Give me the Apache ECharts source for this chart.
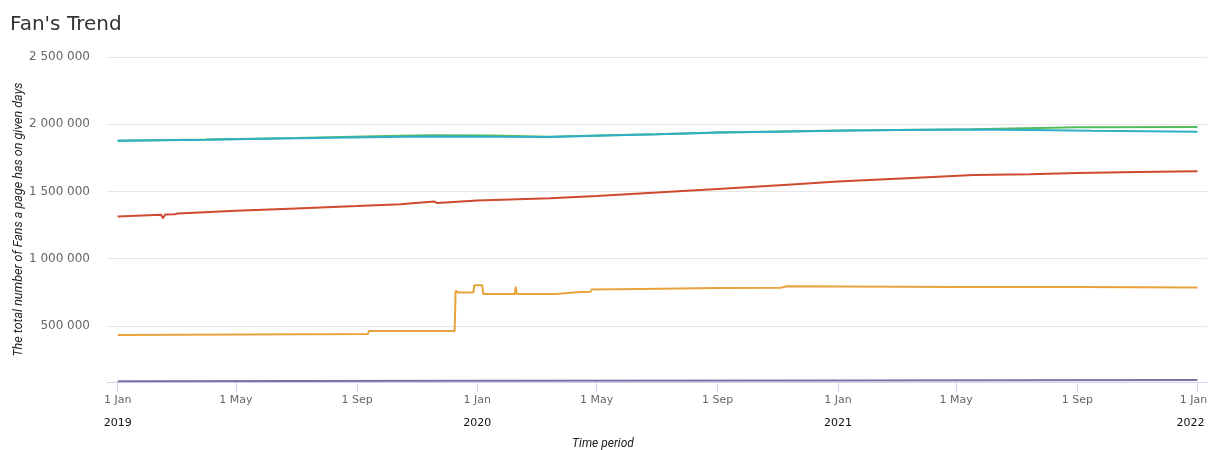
<!DOCTYPE html>
<html>
<head>
<meta charset="utf-8">
<script src="https://cdn.jsdelivr.net/npm/echarts@6/dist/echarts.min.js"></script>
<style>
html,body{margin:0;padding:0;background:#fff;}
#chart{width:1209px;height:450px;}
</style>
</head>
<body>
<div id="chart"></div>
<script>
// ---- Data ----
const tickDates = ['2019-01-01','2019-05-01','2019-09-01','2020-01-01','2020-05-01','2020-09-01','2021-01-01','2021-05-01','2021-09-01','2022-01-01'];
const tickMonthLabels = ['1 Jan','1 May','1 Sep','1 Jan','1 May','1 Sep','1 Jan','1 May','1 Sep','1 Jan'];
const tickYearLabels = ['2019','','','2020','','','2021','','','2022'];
const yTickValues = [500000, 1000000, 1500000, 2000000, 2500000];

const greenDates = ['2019-01-01','2019-04-01','2019-07-01','2019-10-01','2019-11-15','2020-01-15','2020-03-15','2020-05-01','2020-07-01','2020-09-01','2020-11-01','2021-01-01','2021-03-01','2021-05-18','2021-05-19','2021-09-01','2022-01-01'];
const greenValues = [1878000,1886000,1897000,1912000,1918000,1916000,1907000,1916000,1926000,1938000,1946000,1953000,1958000,1962000,1975000,1977000,1980000];

const tealDates = ['2019-01-01','2019-04-01','2019-07-01','2019-10-01','2019-11-15','2020-01-15','2020-03-15','2020-05-01','2020-07-01','2020-08-20','2020-09-01','2020-11-01','2021-01-01','2021-03-01','2021-05-15','2021-07-15','2021-09-15','2022-01-01'];
const tealValues = [1878000,1885000,1895000,1905000,1908000,1906000,1905000,1915000,1925000,1935000,1938000,1945000,1952000,1957000,1961000,1958000,1951000,1945000];

const redDates = ['2019-01-01','2019-02-14','2019-02-16','2019-02-18','2019-02-28','2019-03-01','2019-03-03','2019-05-01','2019-07-01','2019-09-01','2019-10-15','2019-11-18','2019-11-21','2020-01-01','2020-03-15','2020-05-01','2020-07-01','2020-09-01','2020-11-15','2021-01-01','2021-03-01','2021-05-19','2021-05-21','2021-07-15','2021-09-01','2021-11-01','2022-01-01'];
const redValues = [1314000,1326000,1300000,1328000,1331000,1345000,1336000,1356000,1373000,1391000,1405000,1426000,1415000,1433000,1450000,1467000,1492000,1519000,1552000,1574000,1595000,1622000,1613000,1628000,1638000,1645000,1650000];

const orangeDates = ['2019-01-01','2019-09-12','2019-09-13','2019-12-09','2019-12-10','2019-12-12','2019-12-13','2019-12-28','2019-12-29','2020-01-06','2020-01-07','2020-02-08','2020-02-09','2020-02-10','2020-03-21','2020-03-22','2020-04-14','2020-04-16','2020-04-20','2020-04-25','2020-04-26','2020-06-15','2020-09-01','2020-11-04','2020-11-05','2020-11-10','2020-11-11','2021-05-01','2021-09-01','2022-01-01'];
const orangeValues = [432000,440000,462000,463000,762000,758000,748000,748000,803000,803000,738000,738000,792000,738000,738000,752000,752000,748000,752000,755000,770000,775000,782000,784000,795000,795000,787000,790000,789000,786000];

const purpleDates = ['2019-01-01','2020-01-01','2021-01-01','2022-01-01'];
const purpleValues = [88000,92000,95000,97000];

// ---- Build ----
const P = s => { const a = s.split('-').map(Number); return Date.UTC(a[0], a[1] - 1, a[2]); };
const pairs = (d, v) => d.map((s, i) => [P(s), v[i]]);
const tickMs = tickDates.map(P);
const DAY = 86400000;
const fmtNum = v => String(v).replace(/\B(?=(\d{3})+(?!\d))/g, ' ');

const chart = echarts.init(document.getElementById('chart'), null, {renderer: 'canvas'});

function line(name, color, data) {
  return {
    name, type: 'line', data, showSymbol: false, symbol: 'none',
    lineStyle: {color, width: 2}, itemStyle: {color},
    emphasis: {disabled: true}, animation: false
  };
}

chart.setOption({
  animation: false,
  title: {
    text: "Fan's Trend", left: 10, top: 15, padding: 0,
    textStyle: {fontFamily: 'DejaVu Sans', fontSize: 20, fontWeight: 'normal', color: '#333'}
  },
  grid: {left: 107, right: 2, top: 57, bottom: 68, containLabel: false, outerBoundsMode: 'none'},
  xAxis: {
    type: 'value',
    min: tickMs[0] - 10.86 * DAY,
    max: tickMs[tickMs.length - 1] + 9.64 * DAY,
    name: 'Time period',
    nameLocation: 'middle',
    nameGap: 56,
    nameMoveOverlap: false,
    nameTextStyle: {fontFamily: 'Roboto', fontStyle: 'italic', fontSize: 12, color: '#222', padding: [0, 108, 0, 0]},
    axisLine: {lineStyle: {color: '#ccd6eb', width: 1}},
    axisTick: {show: true, length: 10, lineStyle: {color: '#ccd6eb'}, customValues: tickMs},
    splitLine: {show: false},
    axisLabel: {
      customValues: tickMs,
      margin: 11,
      hideOverlap: false,
      formatter: function (val) {
        const i = tickMs.indexOf(val);
        if (i < 0) return '';
        const y = tickYearLabels[i];
        const last = i === tickMs.length - 1;
        return '{' + (last ? 'mr' : 'm') + '|' + tickMonthLabels[i] + '}' +
               (y ? '\n{' + (last ? 'yr' : 'y') + '|' + y + '}' : '');
      },
      rich: {
        m: {fontFamily: 'DejaVu Sans', fontSize: 11, color: '#666', lineHeight: 14},
        y: {fontFamily: 'DejaVu Sans', fontSize: 11, color: '#111', lineHeight: 32},
        mr: {fontFamily: 'DejaVu Sans', fontSize: 11, color: '#666', lineHeight: 14, padding: [0, 8, 0, 0]},
        yr: {fontFamily: 'DejaVu Sans', fontSize: 11, color: '#111', lineHeight: 32, padding: [0, 14, 0, 0]}
      }
    }
  },
  yAxis: {
    type: 'value',
    min: 83000,
    max: 2500000,
    name: 'The total number of Fans a page has on given days',
    nameLocation: 'middle',
    nameRotate: 90,
    nameGap: 82,
    nameMoveOverlap: false,
    nameTextStyle: {fontFamily: 'Roboto', fontStyle: 'italic', fontSize: 12.5, color: '#222'},
    axisLine: {show: false},
    axisTick: {show: false, customValues: yTickValues},
    splitLine: {show: true, lineStyle: {color: '#e6e6e6', width: 1}},
    axisLabel: {
      customValues: yTickValues,
      margin: 17,
      fontFamily: 'DejaVu Sans', fontSize: 12, color: '#666',
      formatter: fmtNum
    }
  },
  series: [
    line('Page 1', '#56bb5f', pairs(greenDates, greenValues)),
    line('Page 2', '#2fafc6', pairs(tealDates, tealValues)),
    line('Page 3', '#cf4a31', pairs(redDates, redValues)),
    line('Page 4', '#e8a23c', pairs(orangeDates, orangeValues)),
    line('Page 5', '#7b72a8', pairs(purpleDates, purpleValues))
  ]
});
</script>
</body>
</html>
